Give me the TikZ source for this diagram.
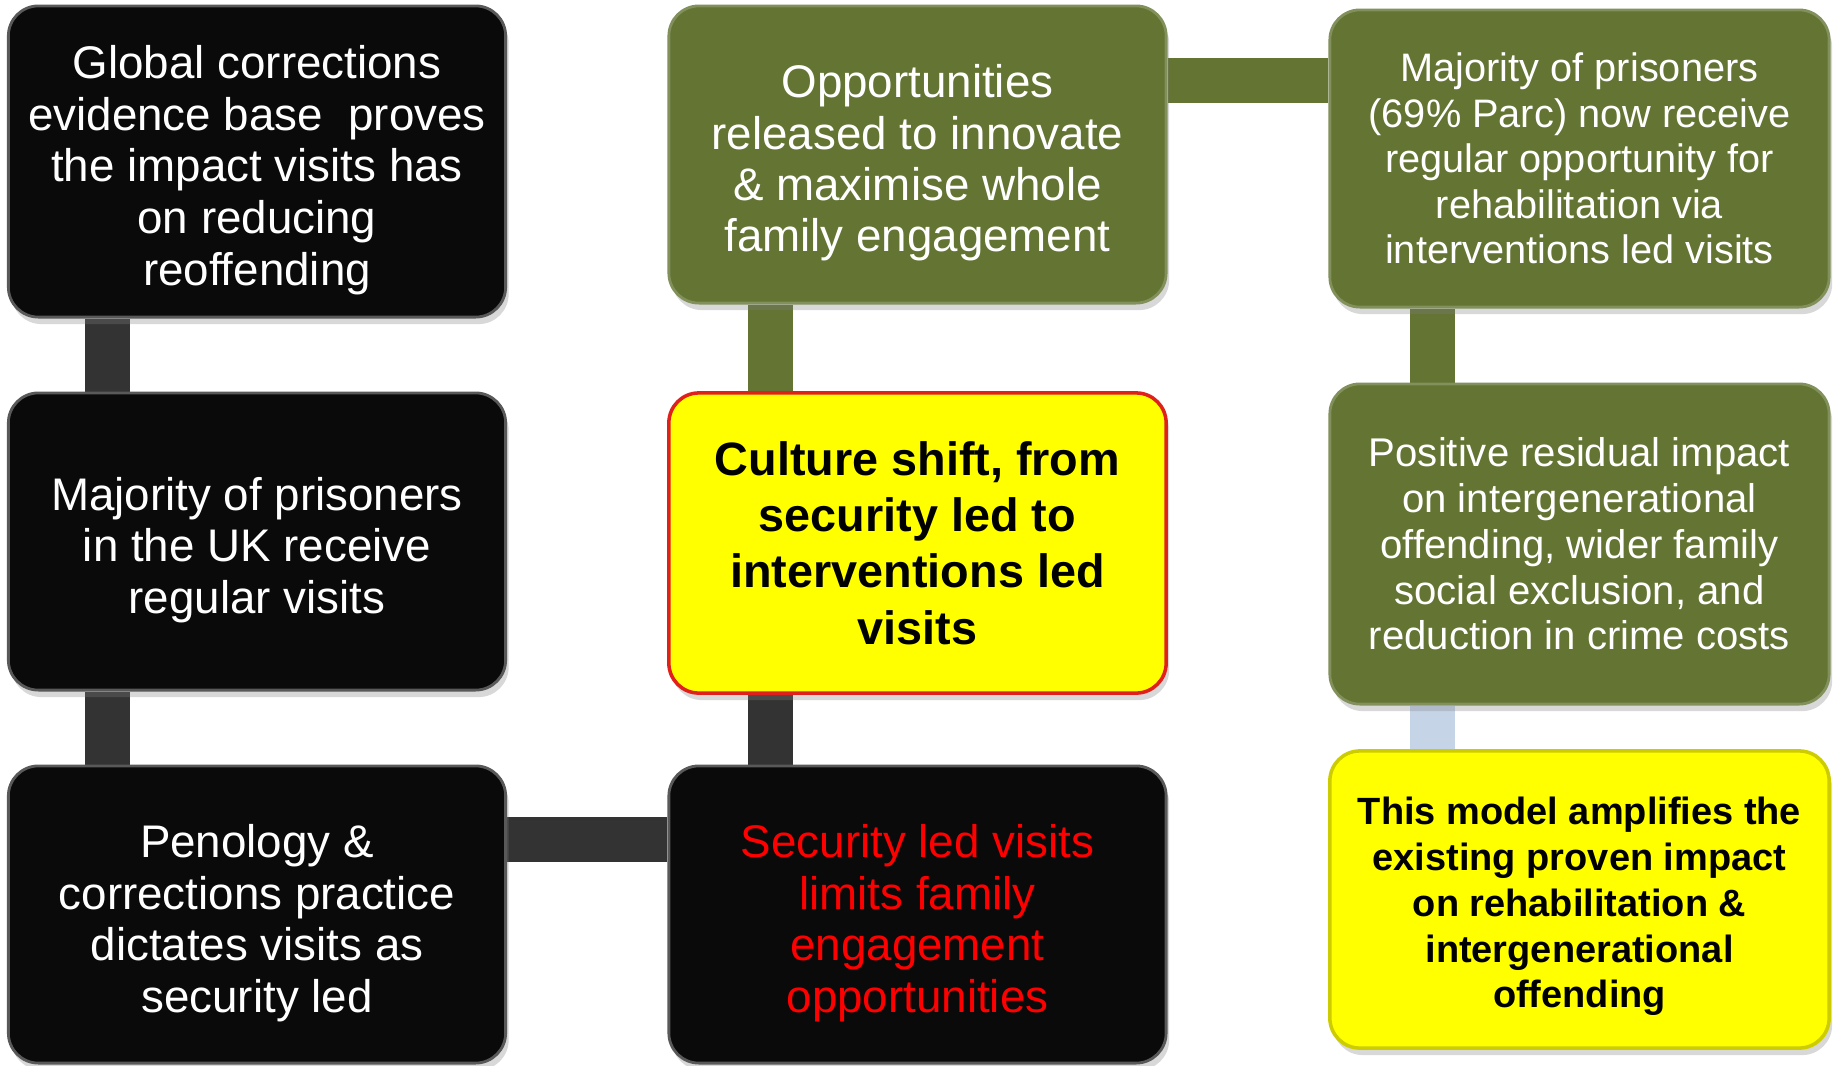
\documentclass[tikz,border=0pt]{standalone}
\usepackage{fontspec}
\setmainfont{Liberation Sans}
\usetikzlibrary{shadows,backgrounds}
\definecolor{boxgreen}{RGB}{99,116,51}
\definecolor{barblue}{RGB}{198,212,232}
\definecolor{bargray}{RGB}{51,51,51}
\definecolor{boxred}{RGB}{224,32,27}
\definecolor{boxyellow}{RGB}{255,255,0}
\newcommand{\lift}{\rule{0pt}{1.1em}}

\begin{document}
\begin{tikzpicture}[x=0.01cm,y=-0.01cm,
    box/.style={rounded corners=0.3cm,align=center,inner sep=0pt,
        minimum width=4.97cm,minimum height=2.97cm,
        drop shadow={shadow xshift=0.03cm,shadow yshift=-0.07cm,opacity=0.3}},
    blackbox/.style={box,fill=black!96,draw=black!65,line width=0.8pt,text=white,
        font=\fontsize{13}{14.7}\selectfont},
    greenbox/.style={box,fill=boxgreen,draw=boxgreen!80!white,line width=0.8pt,text=white},
    yellowbox/.style={box,fill=boxyellow,line width=1pt,text=black},
    bar/.style={line width=0.45cm}]
\useasboundingbox (0,0) rectangle (1841,1066);
% left column
\node[blackbox,minimum height=3.11cm] (global) at (257,161.5)
    {\lift Global corrections\\evidence base~~proves\\the impact visits has\\on reducing\\reoffending};
\node[blackbox] (ukvisits) at (257,541.5)
    {\lift Majority of prisoners\\in the UK receive\\regular visits};
\node[blackbox] (penology) at (257,914.5)
    {\lift Penology \&\\corrections practice\\dictates visits as\\security led};
% middle column
\node[greenbox,font=\fontsize{13}{14.6}\selectfont] (opps) at (917.5,154.5)
    {\lift Opportunities\\released to innovate\\\& maximise whole\\family engagement};
\node[yellowbox,draw=boxred,minimum height=3cm,font=\bfseries\fontsize{13.3}{16}\selectfont] (culture) at (917.5,543)
    {Culture shift, from\\security led to\\interventions led\\visits};
\node[blackbox,text=red] (seclead) at (917.5,914.5)
    {\lift Security led visits\\limits family\\engagement\\opportunities};
% right column
\node[greenbox,minimum width=4.99cm,font=\fontsize{11.3}{12.95}\selectfont] (parc) at (1579.5,158.5)
    {Majority of prisoners\\(69\% Parc) now receive\\regular opportunity for\\rehabilitation via\\interventions led visits};
\node[greenbox,minimum width=4.99cm,minimum height=3.2cm,font=\fontsize{11.4}{13}\selectfont] (residual) at (1579.5,544)
    {Positive residual impact\\on intergenerational\\offending, wider family\\social exclusion, and\\reduction in crime costs};
\node[yellowbox,draw=boxyellow!80!black,minimum width=4.99cm,font=\bfseries\fontsize{10.8}{13}\selectfont] (model) at (1579.5,899.5)
    {\lift This model amplifies the\\existing proven impact\\on rehabilitation \&\\intergenerational\\offending};
% connectors
\begin{scope}[on background layer]
\fill[white] (0,0) rectangle (1841,1066);
\draw[bar,bargray] ([xshift=-1.49cm]global.south) -- ([xshift=-1.49cm]ukvisits.north);
\draw[bar,bargray] ([xshift=-1.49cm]ukvisits.south) -- ([xshift=-1.49cm]penology.north);
\draw[bar,bargray] ([yshift=0.745cm]penology.east) -- ([yshift=0.745cm]penology.east -| seclead.west);
\draw[bar,bargray] ([xshift=-1.465cm]seclead.north) -- ([xshift=-1.465cm]culture.south);
\draw[bar,boxgreen] ([xshift=-1.465cm]culture.north) -- ([xshift=-1.465cm]opps.south);
\draw[bar,boxgreen] ([yshift=0.735cm]opps.east) -- ([yshift=0.735cm]opps.east -| parc.west);
\draw[bar,boxgreen] ([xshift=-1.465cm]parc.south) -- ([xshift=-1.465cm]residual.north);
\draw[bar,barblue] ([xshift=-1.465cm]residual.south) -- ([xshift=-1.465cm]model.north);
\end{scope}
\end{tikzpicture}
\end{document}
